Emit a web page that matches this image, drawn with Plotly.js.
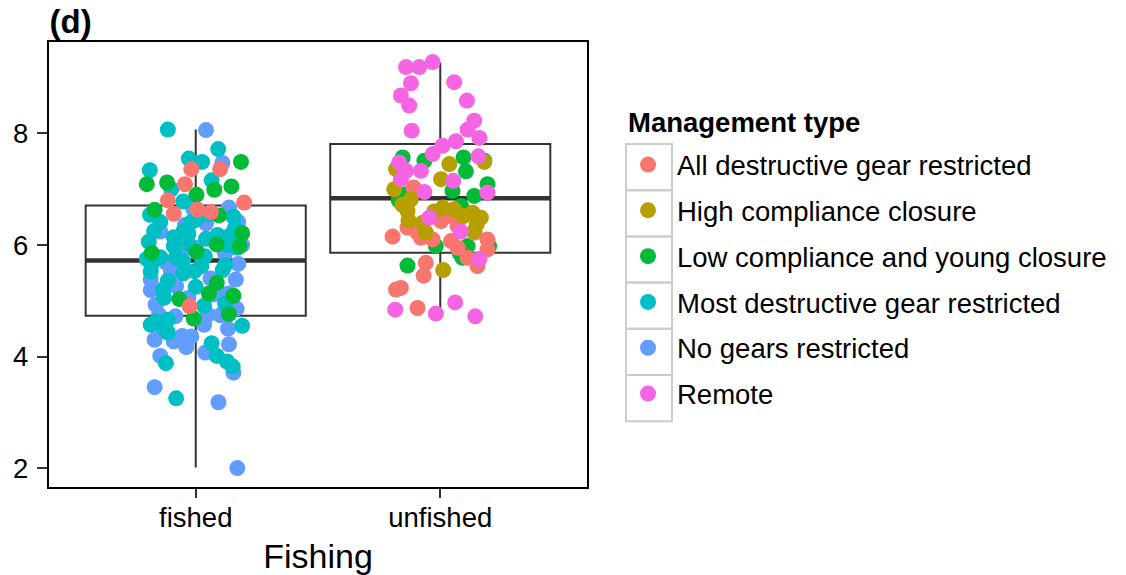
<!DOCTYPE html>
<html>
<head>
<meta charset="utf-8">
<script src="https://cdn.plot.ly/plotly-3.0.1.min.js"></script>
<style>html,body{margin:0;padding:0;background:#fff;}#chart{width:1126px;height:575px;}</style>
</head>
<body>
<div id="chart"></div>
<script>
// ---- categories / tick labels ----
const fishingLevels = ['fished', 'unfished'];
const fishingPos = [1, 2];
const yTickVals = [2, 4, 6, 8];
const managementTypes = ['All destructive gear restricted', 'High compliance closure',
  'Low compliance and young closure', 'Most destructive gear restricted', 'No gears restricted', 'Remote'];
const typeColors = ['#F8766D', '#B79F00', '#00BA38', '#00BFC4', '#619CFF', '#F564E3'];

// ---- box statistics (per fishing level) ----
const boxQ1 = [4.73, 5.86];
const boxMedian = [5.72, 6.84];
const boxQ3 = [6.71, 7.81];
const boxLower = [2.01, 4.87];
const boxUpper = [8.07, 9.27];

// ---- jittered points per management type (x = jittered fishing position, y = value) ----
const allDestrX = [0.982,1.10,0.956,0.886,1.198,0.91,1.008,1.062,0.975,
  1.891,2.003,2.044,2.071,1.866,1.805,1.907,1.921,1.969,2.044,2.071,2.193,2.193,2.112,2.152,1.941,1.932,1.819,1.839,1.907,2.14];
const allDestrY = [7.36,7.36,7.09,6.80,6.76,6.56,6.63,6.59,4.90,
  7.03,6.43,6.52,6.34,6.31,6.15,6.22,6.13,6.10,6.07,5.95,6.10,5.92,5.77,5.62,5.68,5.45,5.20,5.23,4.87,6.22];

const highCompX = [1.819,2.037,2.003,1.812,1.88,1.866,2.01,2.057,2.132,2.166,1.928,1.941,2.139,2.012,2.18,1.87,2.15,1.975,2.095,1.845];
const highCompY = [7.36,7.45,7.18,7.00,6.82,6.61,6.67,6.64,6.58,6.49,6.40,6.22,6.25,5.55,7.49,6.44,6.38,6.60,6.52,6.72];

const lowCompX = [1.185,0.80,0.883,1.003,1.076,1.146,0.832,1.095,1.19,1.086,1.179,0.82,1.003,1.086,1.154,1.054,0.933,1.136,0.992,
  1.846,1.935,2.095,2.18,2.105,1.86,2.139,2.193,2.085,1.982,2.112,2.2,2.091,1.866,2.05,1.83,2.08];
const lowCompY = [7.49,7.09,7.12,6.90,6.99,7.05,6.63,6.53,6.21,6.01,5.98,5.86,5.88,5.32,5.09,5.13,5.03,4.76,4.68,
  7.57,7.51,7.57,7.51,7.32,6.91,6.88,7.09,6.70,5.98,5.98,5.98,5.77,5.63,6.97,6.80,5.85];

const mostDestrX = [0.886,1.092,0.812,0.972,1.026,0.90,1.065,0.949,0.813,0.855,1.154,1.0,1.143,1.089,1.042,0.91,0.808,0.972,0.91,
  0.80,0.855,0.92,1.026,1.12,0.816,0.949,0.995,0.886,1.034,0.886,0.816,0.863,1.19,0.886,1.065,1.086,0.878,1.128,1.151,0.92,
  1.08,1.037,1.023,0.866,0.839,0.948,0.819,0.982,1.16,0.95,1.05,1.13,0.97,1.11,
  0.83,1.17,0.87,1.00,1.12];
const mostDestrY = [8.07,7.72,7.34,7.55,7.49,7.00,7.16,6.78,6.54,6.41,6.51,6.45,6.18,6.18,6.11,6.14,6.06,6.01,5.98,
  5.75,5.78,5.78,5.75,5.64,5.52,5.49,5.53,5.36,4.91,4.66,4.57,4.53,4.55,4.43,4.24,4.01,3.88,3.91,3.82,3.25,
  6.05,5.80,5.62,5.20,4.63,5.71,5.65,6.41,6.30,6.25,6.55,6.00,6.20,5.55,
  6.25,5.95,5.05,5.25,4.95];

const noGearX = [1.042,1.109,1.136,1.174,1.042,0.956,0.855,0.933,1.12,1.174,0.899,1.164,0.816,0.816,0.871,0.92,1.089,1.136,
  0.836,1.167,0.917,1.101,1.132,1.034,0.945,0.832,0.91,0.961,1.136,1.039,0.855,1.154,0.832,1.093,1.17,
  0.962,0.88,1.071,0.982,1.0,0.94,1.06,0.97,
  0.99,1.19,0.93,1.05,0.85];
const noGearY = [8.06,7.47,6.67,6.41,6.39,6.36,6.24,6.11,5.85,5.66,5.52,5.38,5.38,5.19,5.22,5.26,5.19,5.13,
  4.93,4.86,4.72,4.74,4.50,4.57,4.37,4.30,4.27,4.17,4.22,4.07,4.01,3.71,3.45,3.18,2.00,
  6.01,5.68,5.11,4.36,5.95,5.85,5.40,5.05,
  6.65,6.00,5.65,4.75,4.75];

const remoteX = [1.969,1.914,1.86,1.88,1.839,1.873,2.057,2.109,2.139,2.112,1.883,2.16,2.064,2.009,1.969,2.156,1.832,1.86,1.921,
  1.839,2.053,1.935,2.193,1.955,2.083,2.16,1.816,1.982,2.061,2.143];
const remoteY = [9.28,9.19,9.19,8.90,8.68,8.50,8.92,8.59,8.23,8.07,8.05,7.92,7.86,7.78,7.63,7.59,7.48,7.33,7.33,
  7.18,7.15,6.95,6.94,6.49,6.24,5.75,4.84,4.77,4.97,4.72];

const groupX = [allDestrX, highCompX, lowCompX, mostDestrX, noGearX, remoteX];
const groupY = [allDestrY, highCompY, lowCompY, mostDestrY, noGearY, remoteY];

const FONT = '"Liberation Sans", Arial, Helvetica, sans-serif';
const boxWidth = 0.9;

const traces = [];
traces.push({
  type: 'box', x: fishingPos, q1: boxQ1, median: boxMedian, q3: boxQ3,
  lowerfence: boxLower, upperfence: boxUpper, width: boxWidth, whiskerwidth: 0,
  boxpoints: false, fillcolor: 'rgba(255,255,255,0)',
  line: {color: '#333333', width: 2}, showlegend: false, hoverinfo: 'skip'
});
// thicker median segments
const medX = [], medY = [];
fishingPos.forEach((p, i) => { medX.push(p - boxWidth / 2, p + boxWidth / 2, null); medY.push(boxMedian[i], boxMedian[i], null); });
traces.push({type: 'scatter', mode: 'lines', x: medX, y: medY, line: {color: '#333333', width: 4.5},
  showlegend: false, hoverinfo: 'skip'});

// drawing order (legend order via legendrank)
const drawOrder = [4, 3, 2, 0, 1, 5];
drawOrder.forEach(g => {
  traces.push({
    type: 'scatter', mode: 'markers', name: managementTypes[g],
    x: groupX[g], y: groupY[g], legendgroup: 'g' + g, legendrank: g + 1,
    marker: {color: typeColors[g], size: 16, line: {width: 0}}
  });
});

// legend key boxes
const shapes = [];
const keyTop = 0.7708, keyH = 0.1038;
managementTypes.forEach((t, i) => {
  shapes.push({type: 'rect', xref: 'paper', yref: 'paper', x0: 1.0725, x1: 1.158,
    y0: keyTop - (i + 1) * keyH, y1: keyTop - i * keyH, line: {color: '#CCCCCC', width: 2}, fillcolor: 'rgba(0,0,0,0)', layer: 'below'});
});

const layout = {
  width: 1126, height: 575,
  margin: {l: 49, r: 539, t: 42, b: 88, pad: 0},
  paper_bgcolor: '#ffffff', plot_bgcolor: '#ffffff',
  font: {family: FONT, color: '#000000', size: 27.5},
  title: {text: '<b>(d)</b>', font: {family: FONT, size: 33, color: '#000'}, x: 0.044, xanchor: 'left', xref: 'container',
    y: 0.962, yanchor: 'middle', yref: 'container'},
  xaxis: {range: [0.4, 2.6], tickvals: fishingPos, ticktext: fishingLevels, ticks: 'outside', ticklen: 9, tickwidth: 2,
    tickcolor: '#333333', showgrid: false, zeroline: false, showline: true, mirror: true, linecolor: '#000', linewidth: 2.3,
    ticklabelstandoff: -4,
    tickfont: {family: FONT, size: 27.5, color: '#000'},
    title: {text: 'Fishing', font: {family: FONT, size: 34, color: '#000'}, standoff: 14}},
  yaxis: {range: [1.66, 9.64], tickvals: yTickVals, ticks: 'outside', ticklen: 10, tickwidth: 2, tickcolor: '#333333',
    showgrid: false, zeroline: false, showline: true, mirror: true, linecolor: '#000', linewidth: 2.3,
    ticklabelstandoff: 3,
    tickfont: {family: FONT, size: 27.5, color: '#000'}},
  showlegend: true,
  legend: {x: 1.0595, xanchor: 'left', y: 0.7794, yanchor: 'top', bgcolor: 'rgba(0,0,0,0)', borderwidth: 0,
    font: {family: FONT, size: 27.5, color: '#000'}, tracegroupgap: 7.05, traceorder: 'grouped', itemwidth: 48},
  annotations: [{text: '<b>Management type</b>', xref: 'paper', yref: 'paper', x: 1.0725, xanchor: 'left',
    y: (487 - 123) / 445, yanchor: 'middle', showarrow: false, font: {family: FONT, size: 27.5, color: '#000'}}],
  shapes: shapes
};

Plotly.newPlot('chart', traces, layout, {displayModeBar: false, staticPlot: true});
</script>
</body>
</html>
